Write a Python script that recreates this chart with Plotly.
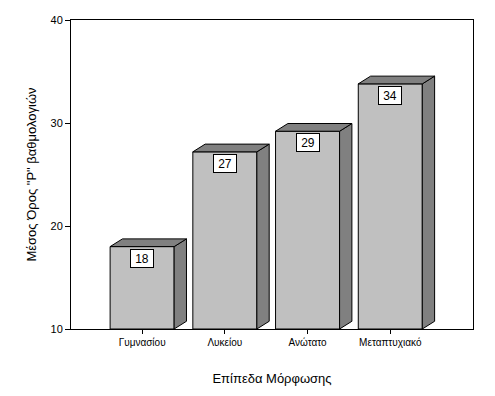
import plotly.graph_objects as go

categories = ["Γυμνασίου", "Λυκείου", "Ανώτατο", "Μεταπτυχιακό"]
values = [18.0, 27.2, 29.2, 33.8]
y_ticks = [10, 20, 30, 40]

BASE = 10
HALF_W = 0.387   # half width of front face (category units)
DX = 0.149       # depth offset in x (category units)
DY = 0.75        # depth offset in y (value units)

FONT = "Arial, Liberation Sans, sans-serif"

fig = go.Figure()

# front faces
fig.add_trace(go.Bar(
    x=list(range(len(categories))), y=[v - BASE for v in values], base=BASE,
    width=2 * HALF_W,
    marker=dict(color="#c0c0c0", line=dict(color="black", width=1)),
    hoverinfo="skip", showlegend=False,
))

# side and top faces
for i, v in enumerate(values):
    xl, xr = i - HALF_W, i + HALF_W
    fig.add_trace(go.Scatter(
        x=[xr, xr + DX, xr + DX, xr, xr],
        y=[BASE, BASE + DY, v + DY, v, BASE],
        mode="lines", fill="toself", fillcolor="#808080",
        line=dict(color="black", width=1),
        hoverinfo="skip", showlegend=False,
    ))
    fig.add_trace(go.Scatter(
        x=[xl, xl + DX, xr + DX, xr, xl],
        y=[v, v + DY, v + DY, v, v],
        mode="lines", fill="toself", fillcolor="#808080",
        line=dict(color="black", width=1),
        hoverinfo="skip", showlegend=False,
    ))
    fig.add_annotation(
        x=i, y=v, xref="x", yref="y", text=f"{round(v)}",
        showarrow=False, yanchor="top", yshift=-2,
        font=dict(family=FONT, size=12, color="black"),
        bgcolor="white", bordercolor="black", borderwidth=1,
        width=20, height=15, borderpad=1,
    )

fig.update_layout(
    width=495, height=396,
    margin=dict(l=71, r=22, t=20, b=67),
    paper_bgcolor="white", plot_bgcolor="white",
    font=dict(family=FONT, color="black"),
    xaxis=dict(
        range=[-0.86, 4.0], tickvals=list(range(len(categories))), ticktext=categories,
        showline=True, linecolor="black", linewidth=1, mirror=True,
        ticks="outside", ticklen=4, tickcolor="black",
        showgrid=False, zeroline=False, automargin=False,
        tickfont=dict(size=10, family=FONT),
        title=dict(text="Επίπεδα Μόρφωσης", font=dict(size=13, family=FONT), standoff=26),
    ),
    yaxis=dict(
        range=[10, 40], tickvals=y_ticks,
        showline=True, linecolor="black", linewidth=1, mirror=True,
        ticks="outside", ticklen=5, tickcolor="black",
        showgrid=False, zeroline=False, automargin=False,
        tickfont=dict(size=11, family=FONT),
        title=dict(text="Μέσος Όρος \"P\" βαθμολογιών", font=dict(size=13, family=FONT), standoff=10),
    ),
)

fig.write_html("out.html", config={"displayModeBar": False},
               post_script="document.body.style.margin='0';")
